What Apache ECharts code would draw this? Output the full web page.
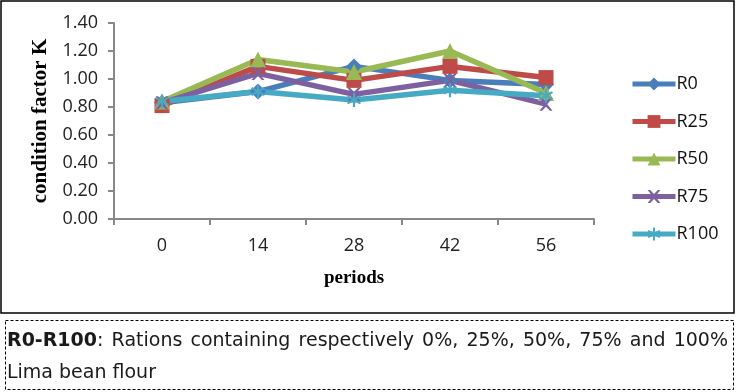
<!DOCTYPE html>
<html><head><meta charset="utf-8">
<script src="https://cdn.jsdelivr.net/npm/echarts@6/dist/echarts.min.js"></script>
<style>html,body{margin:0;padding:0;background:#fff}#c{width:736px;height:392px}</style>
</head><body><div id="c"></div>
<script>
var periods = ['0', '14', '28', '42', '56'];
var R0   = [0.83, 0.91, 1.09, 0.99, 0.96];
var R25  = [0.81, 1.09, 0.99, 1.09, 1.01];
var R50  = [0.84, 1.14, 1.05, 1.20, 0.90];
var R75  = [0.83, 1.04, 0.89, 0.99, 0.82];
var R100 = [0.84, 0.91, 0.85, 0.92, 0.88];
var yTicks = ['0.00','0.20','0.40','0.60','0.80','1.00','1.20','1.40'];
var noteBold = 'R0-R100';
var noteLine1 = ': Rations containing respectively 0%, 25%, 50%, 75% and 100%';
var noteLine2 = 'Lima bean flour';

var xPath = 'path://M0,0 L2,0 L5,3 L8,0 L10,0 L6,5 L10,10 L8,10 L5,7 L2,10 L0,10 L4,5 Z';
var starPath = 'path://M4.3,0 L5.7,0 L5.7,3.6 L8.9,1.8 L9.6,3 L6.4,4.9 L9.6,6.9 L8.9,8.1 L5.7,6.3 L5.7,10 L4.3,10 L4.3,6.3 L1.1,8.1 L0.4,6.9 L3.6,4.9 L0.4,3 L1.1,1.8 L4.3,3.6 Z';

function mk(name, data, color, symbol, size) {
  return {
    name: name, type: 'line', data: data, symbol: symbol, symbolSize: size,
    lineStyle: { width: 5.5, color: color }, itemStyle: { color: color },
    emphasis: { disabled: true }, animation: false
  };
}

// justified first line of the note
var FONT = 'DejaVu Sans, sans-serif';
var FS = 19;
var cv = document.createElement('canvas').getContext('2d');
function w(t, bold) { cv.font = (bold ? 'bold ' : '') + FS + 'px ' + FONT; return cv.measureText(t).width; }
var words = noteLine1.split(' ');
var x0 = 7, x1 = 728;
var total = w(noteBold, true);
words.forEach(function (wd) { total += w(wd, false); });
var gap = (x1 - x0 - total) / (words.length - 1);
var noteGraphics = [];
var cx = x0;
noteGraphics.push({ type: 'text', x: cx, y: 341, silent: true, style: { text: noteBold, font: 'bold ' + FS + 'px ' + FONT, fill: '#1a1a1a', verticalAlign: 'middle' } });
cx += w(noteBold, true);
words.forEach(function (wd, i) {
  noteGraphics.push({ type: 'text', x: cx, y: 341, silent: true, style: { text: wd, font: FS + 'px ' + FONT, fill: '#1a1a1a', verticalAlign: 'middle' } });
  cx += w(wd, false) + gap;
});
noteGraphics.push({ type: 'text', x: x0, y: 373, silent: true, style: { text: noteLine2, font: FS + 'px ' + FONT, fill: '#1a1a1a', verticalAlign: 'middle' } });

var chart = echarts.init(document.getElementById('c'));
chart.setOption({
  animation: false,
  grid: { left: 114, right: 142, top: 23, bottom: 173 },
  legend: {
    orient: 'vertical', left: 625, top: 70, itemGap: 19.5, itemWidth: 43, itemHeight: 16,
    lineStyle: { width: 5 },
    textStyle: { fontFamily: 'Open Sans, sans-serif', fontSize: 18, color: '#111', padding: [0,0,0,-4] },
    data: ['R0','R25','R50','R75','R100']
  },
  xAxis: {
    type: 'category', data: periods, boundaryGap: true,
    name: 'periods', nameLocation: 'middle', nameGap: 50,
    nameTextStyle: { fontFamily: 'Liberation Serif, serif', fontWeight: 'bold', fontSize: 19, color: '#000' },
    axisLine: { lineStyle: { color: '#888', width: 2 } },
    axisTick: { show: true, length: 6, inside: false, lineStyle: { color: '#888', width: 2 } },
    axisLabel: { fontFamily: 'Open Sans, sans-serif', fontSize: 18, color: '#222', margin: 18 }
  },
  yAxis: {
    type: 'value', min: 0, max: 1.4, interval: 0.2,
    name: 'condition factor K', nameLocation: 'middle', nameGap: 62,
    nameTextStyle: { fontFamily: 'Liberation Serif, serif', fontWeight: 'bold', fontSize: 21, color: '#000' },
    axisLine: { show: true, lineStyle: { color: '#888', width: 2 } },
    axisTick: { show: true, length: 6, lineStyle: { color: '#888', width: 2 } },
    splitLine: { show: false },
    axisLabel: { fontFamily: 'Open Sans, sans-serif', fontSize: 18, color: '#222', margin: 16,
      formatter: function (v) { return yTicks[Math.round(v / 0.2)]; } }
  },
  graphic: [
    { type: 'rect', shape: { x: 1, y: 1, width: 733, height: 312 }, style: { fill: 'none', stroke: '#000', lineWidth: 1.5 }, silent: true },
    { type: 'rect', shape: { x: 5.5, y: 320.5, width: 728, height: 69 }, style: { fill: 'none', stroke: '#000', lineWidth: 1, lineDash: [3, 2] }, silent: true }
  ].concat(noteGraphics),
  series: [
    mk('R0', R0, '#4a7ebb', 'diamond', 16),
    mk('R25', R25, '#be4b48', 'rect', 15),
    mk('R50', R50, '#98b954', 'triangle', 16),
    mk('R75', R75, '#7d60a0', xPath, 13),
    mk('R100', R100, '#46aac5', starPath, 14)
  ]
});
</script></body></html>
